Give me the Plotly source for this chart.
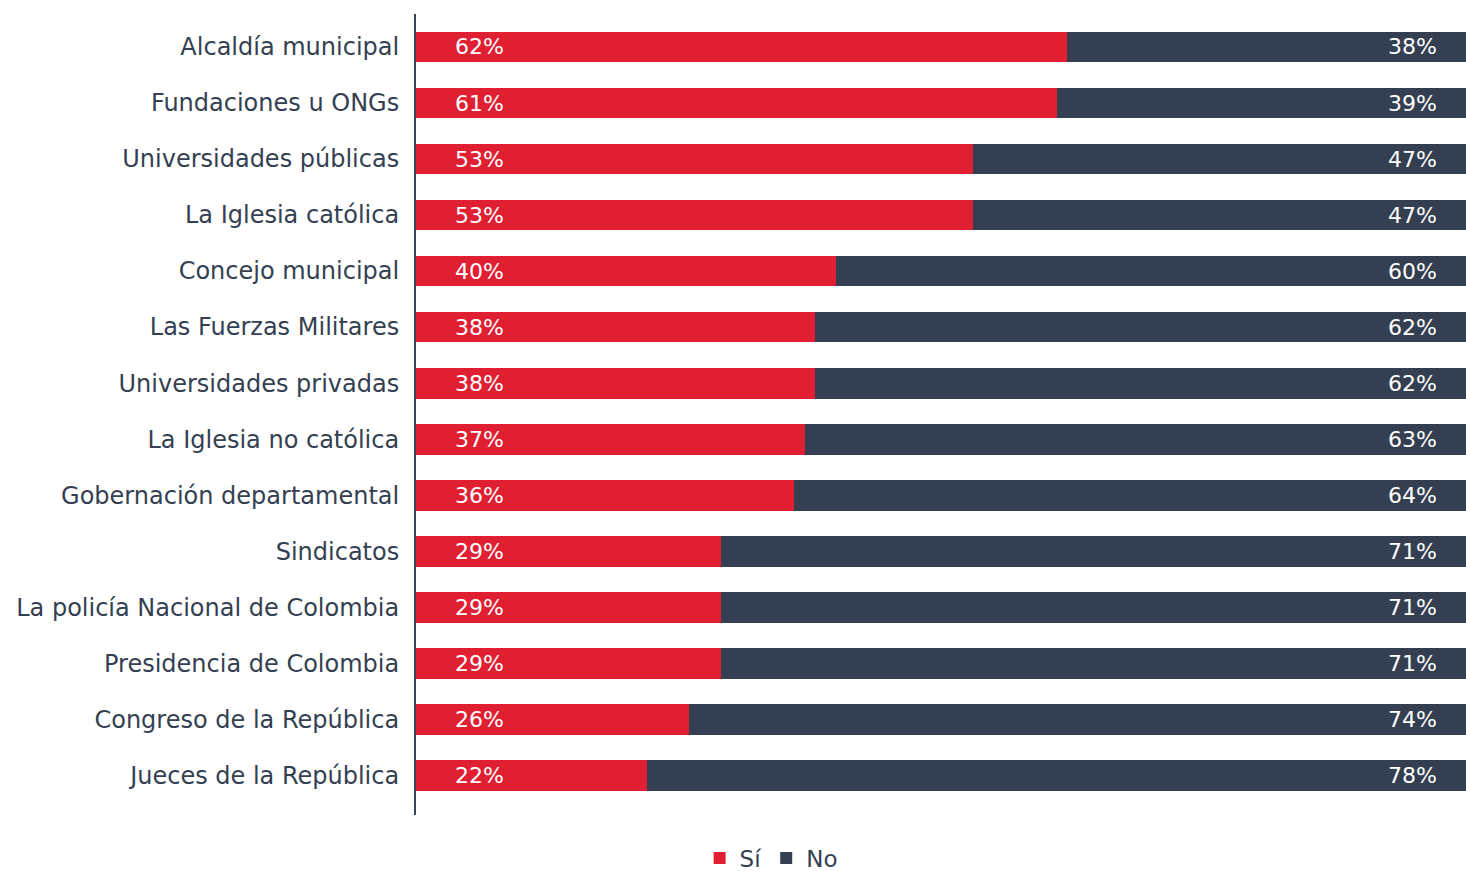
import plotly.graph_objects as go

categories = ["Alcaldía municipal", "Fundaciones u ONGs", "Universidades públicas",
              "La Iglesia católica", "Concejo municipal", "Las Fuerzas Militares",
              "Universidades privadas", "La Iglesia no católica", "Gobernación departamental",
              "Sindicatos", "La policía Nacional de Colombia", "Presidencia de Colombia",
              "Congreso de la República", "Jueces de la República"]
si_values = [62, 61, 53, 53, 40, 38, 38, 37, 36, 29, 29, 29, 26, 22]
no_values = [38, 39, 47, 47, 60, 62, 62, 63, 64, 71, 71, 71, 74, 78]

RED = "#E01F33"
DARK = "#344051"
FONT = "DejaVu Sans"

fig = go.Figure()
fig.add_trace(go.Bar(y=categories, x=si_values, name="Sí", orientation="h",
                     marker=dict(color=RED, line=dict(width=0)), hoverinfo="x+y"))
fig.add_trace(go.Bar(y=categories, x=no_values, name="No", orientation="h",
                     marker=dict(color=DARK, line=dict(width=0)), hoverinfo="x+y"))

annotations = []
for c, s, n in zip(categories, si_values, no_values):
    annotations.append(dict(x=0.035, xref="x domain", y=c, yref="y", text=f"{s}%",
                            showarrow=False, xanchor="left", yanchor="middle",
                            font=dict(color="white", size=22, family=FONT)))
    annotations.append(dict(x=0.974, xref="x domain", y=c, yref="y", text=f"{n}%",
                            showarrow=False, xanchor="right", yanchor="middle",
                            font=dict(color="white", size=22, family=FONT)))

fig.update_layout(
    barmode="stack",
    bargap=0.45,
    width=1466, height=871,
    margin=dict(l=416, r=0, t=14, b=56),
    plot_bgcolor="white", paper_bgcolor="white",
    font=dict(family=FONT, color=DARK, size=22),
    showlegend=True,
    legend=dict(orientation="h", xref="container", yref="container",
                x=0.526, xanchor="center", y=0.015, yanchor="middle",
                font=dict(size=23, color=DARK, family=FONT), itemwidth=30,
                traceorder="normal"),
    annotations=annotations,
    xaxis=dict(range=[0, 100], showgrid=False, showticklabels=False, zeroline=False,
               showline=False, fixedrange=True),
    yaxis=dict(type="category", range=[13.71, -0.589], showgrid=False, zeroline=False,
               showline=True, linecolor="#3A4556", linewidth=2, ticks="",
               ticklabelstandoff=10,
               tickfont=dict(size=24, color=DARK, family=FONT)),
)

fig.write_html("out.html", config={"displayModeBar": False},
               post_script="document.body.style.margin='0px';document.body.style.overflow='hidden';")
